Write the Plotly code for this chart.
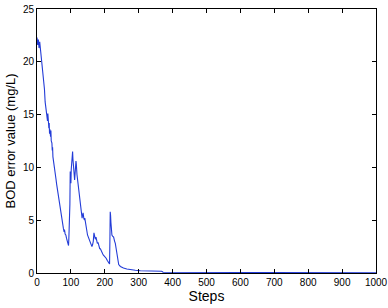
import plotly.graph_objects as go

steps = [0, 2, 4, 6, 8, 10, 12, 14, 16, 18, 20, 22, 24, 26, 28, 30, 31, 32, 34, 35,
         36, 37, 38, 40, 41, 42, 44, 45, 46, 47, 48, 50, 53, 56, 58, 61, 64, 67, 70, 73,
         76, 78, 80, 81, 83, 85, 87, 89, 91, 93, 94, 95, 96, 97, 98, 99, 100, 101, 103, 105,
         106, 108, 110, 111, 113, 115, 116, 118, 120, 121, 123, 125, 127, 128, 130, 131, 133, 134, 136, 138,
         140, 141, 143, 145, 147, 149, 152, 155, 158, 160, 162, 164, 166, 168, 170, 172, 174, 176, 178, 180,
         182, 185, 187, 189, 192, 194, 196, 199, 202, 204, 207, 210, 212, 214, 215, 216, 217, 218, 219, 220,
         221, 223, 226, 229, 231, 234, 236, 238, 241, 246, 250, 255, 265, 275, 290, 305, 330, 360, 368, 372,
         450, 500, 600, 630, 640, 1000]

bod_error = [22.3, 21.6, 22.1, 21.3, 21.9, 21.2, 20.8, 20.1, 19.6, 19.1, 18.2, 17.4, 16.2, 15.6, 15.2, 14.9, 14.4, 15.1, 14.3, 13.7,
             14.2, 13.2, 13.6, 12.9, 13.5, 12.5, 12.3, 11.6, 11.9, 11.0, 10.7, 10.3, 9.6, 8.9, 8.4, 7.7, 7.1, 6.5, 5.8, 5.2,
             4.6, 4.2, 3.9, 4.1, 3.7, 3.6, 3.3, 3.0, 2.8, 2.6, 3.3, 4.2, 3.8, 6.5, 9.6, 9.1, 8.5, 9.8, 11.2, 11.5,
             10.8, 9.4, 8.9, 8.8, 9.7, 10.6, 10.3, 9.3, 8.7, 8.4, 7.8, 7.4, 6.9, 6.6, 6.1, 5.9, 5.2, 5.4, 5.7, 5.2,
             5.0, 5.2, 4.9, 4.4, 4.0, 3.6, 3.3, 3.1, 2.8, 2.6, 2.5, 2.7, 3.0, 3.8, 3.6, 3.2, 3.4, 3.0, 2.8, 2.9,
             2.6, 2.3, 2.3, 2.1, 1.9, 1.8, 1.7, 1.6, 1.5, 1.4, 1.2, 1.0, 0.9, 0.85, 3.0, 5.8, 5.5, 4.8, 4.4, 3.7,
             3.6, 3.5, 3.4, 3.0, 2.8, 2.2, 1.9, 1.4, 0.8, 0.62, 0.55, 0.47, 0.38, 0.31, 0.26, 0.22, 0.2, 0.17, 0.16, 0.07,
             0.06, 0.05, 0.05, 0.04, 0.02, 0.02]

x_ticks = [0, 100, 200, 300, 400, 500, 600, 700, 800, 900, 1000]
y_ticks = [0, 5, 10, 15, 20, 25]

fig = go.Figure()
fig.add_trace(go.Scatter(x=steps, y=bod_error, mode="lines",
                         line=dict(color="rgb(35,60,215)", width=1.1)))

font = "Liberation Sans, Arial, Helvetica, sans-serif"
axis_common = dict(showline=True, linecolor="black", linewidth=1, mirror="ticks",
                   ticks="inside", ticklen=4, tickcolor="black", showgrid=False,
                   zeroline=False, automargin=False,
                   tickfont=dict(family=font, size=10, color="black"))

fig.update_layout(
    width=388, height=308,
    margin=dict(l=37, r=12, t=9, b=35),
    plot_bgcolor="white", paper_bgcolor="white",
    showlegend=False,
    xaxis=dict(range=[0, 1000], tickvals=x_ticks,
               title=dict(text="Steps", font=dict(family=font, size=14, color="black"), standoff=3),
               **axis_common),
    yaxis=dict(range=[0, 25], tickvals=y_ticks,
               title=dict(text="BOD error value (mg/L)", font=dict(family=font, size=13, color="black"), standoff=4),
               **axis_common),
)

fig.write_html("out.html", config={"displayModeBar": False},
               post_script="document.body.style.margin='0px';document.body.style.overflow='hidden';")
